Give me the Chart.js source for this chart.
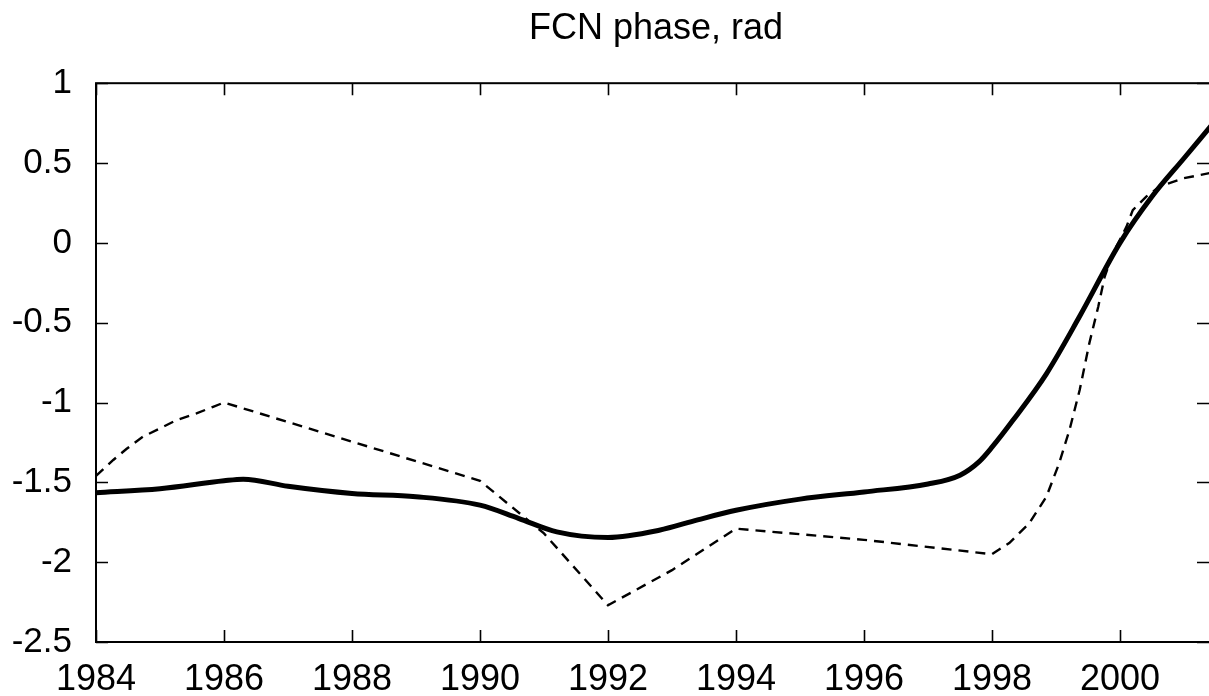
<!DOCTYPE html>
<html>
<head>
<meta charset="utf-8">
<script src="https://cdn.jsdelivr.net/npm/chart.js@4/dist/chart.umd.min.js"></script>
<style>
  html, body { margin: 0; padding: 0; background: #fff; overflow: hidden; }
  #wrap { width: 1216px; height: 696px; }
</style>
</head>
<body>
<div id="wrap"><canvas id="fcn" width="1216" height="696"></canvas></div>
<script>
// FCN phase (rad) vs year

const chartTitle = 'FCN phase, rad';

// x tick labels (years) and y tick labels
const yearTicks = [1984, 1986, 1988, 1990, 1992, 1994, 1996, 1998, 2000];
const phaseTicks = [-2.5, -2, -1.5, -1, -0.5, 0, 0.5, 1];
const phaseTickLabels = ['-2.5', '-2', '-1.5', '-1', '-0.5', '0', '0.5', '1'];

// thick solid curve
const solidYears = [1984, 1985, 1986, 1986.3, 1987, 1988, 1989, 1990, 1990.6, 1991.2, 1992, 1992.8, 1993.4, 1994,
  1995, 1996, 1997, 1997.5, 1997.8, 1998, 1998.33, 1998.85, 1999.37, 2000, 2000.5, 2001, 2001.5];
const solidPhase = [-1.565, -1.54, -1.49, -1.48, -1.525, -1.57, -1.59, -1.643, -1.725, -1.81, -1.845, -1.8, -1.735, -1.675,
  -1.605, -1.56, -1.51, -1.455, -1.37, -1.28, -1.11, -0.82, -0.46, 0.0, 0.29, 0.53, 0.77];

// thin dashed curve
const dashedYears = [1984, 1984.27, 1984.48, 1984.73, 1985, 1985.26, 1985.57, 1985.83, 1986, 1988, 1990, 1991, 1992, 1993, 1994, 1996, 1998,
  1998.27, 1998.58, 1998.85, 1999.05, 1999.21, 1999.37, 1999.52, 1999.66, 1999.76, 1999.89, 2000.1, 2000.2, 2000.41,
  2000.63, 2001, 2001.5];
const dashedPhase = [-1.46, -1.36, -1.29, -1.215, -1.162, -1.11, -1.068, -1.027, -1.0, -1.245, -1.49, -1.82, -2.27, -2.05, -1.79, -1.86, -1.95,
  -1.88, -1.757, -1.59, -1.38, -1.173, -0.922, -0.63, -0.4, -0.213, -0.066, 0.1, 0.205, 0.29,
  0.355, 0.405, 0.445];

const toPoints = (xs, ys) => xs.map((x, i) => ({ x: x, y: ys[i] }));

// box frame + inward tick marks, gnuplot style
const frameTicks = {
  id: 'frameTicks',
  afterDraw(chart) {
    const { ctx, chartArea: a, scales } = chart;
    const len = 12;
    ctx.save();
    ctx.strokeStyle = '#000';
    ctx.lineWidth = 2;
    ctx.strokeRect(a.left, a.top, a.right - a.left, a.bottom - a.top);
    ctx.beginPath();
    yearTicks.forEach(v => {
      const px = Math.round(scales.x.getPixelForValue(v)) + 0.5;
      ctx.moveTo(px, a.bottom); ctx.lineTo(px, a.bottom - len);
      ctx.moveTo(px, a.top); ctx.lineTo(px, a.top + len);
    });
    phaseTicks.forEach(v => {
      const py = Math.round(scales.y.getPixelForValue(v)) + 0.5;
      ctx.moveTo(a.left, py); ctx.lineTo(a.left + len, py);
      ctx.moveTo(1209, py); ctx.lineTo(1209 - len, py);
    });
    ctx.lineWidth = 1.6;
    ctx.stroke();
    ctx.restore();
  }
};

new Chart(document.getElementById('fcn'), {
  type: 'line',
  data: {
    datasets: [
      {
        data: toPoints(solidYears, solidPhase),
        borderColor: '#000',
        borderWidth: 5,
        pointRadius: 0,
        cubicInterpolationMode: 'monotone',
        fill: false
      },
      {
        data: toPoints(dashedYears, dashedPhase),
        borderColor: '#000',
        borderWidth: 2.4,
        borderDash: [10, 7],
        pointRadius: 0,
        tension: 0,
        fill: false
      }
    ]
  },
  options: {
    responsive: false,
    animation: false,
    devicePixelRatio: 1,
    layout: { padding: 0 },
    plugins: {
      legend: { display: false },
      tooltip: { enabled: false },
      title: {
        display: true,
        text: chartTitle,
        fullSize: false,
        color: '#000',
        font: { family: 'Liberation Sans, Arial, sans-serif', size: 36, weight: 'normal', lineHeight: 1.2 },
        padding: { top: 7, bottom: 33 }
      }
    },
    scales: {
      x: {
        type: 'linear',
        min: 1984,
        max: 2001.5,
        afterFit(scale) { scale.height = 54; },
        afterBuildTicks(scale) { scale.ticks = yearTicks.map(v => ({ value: v })); },
        grid: { display: false, drawTicks: false },
        border: { display: false },
        ticks: {
          color: '#000',
          padding: 16,
          maxRotation: 0,
          autoSkip: false,
          font: { family: 'Liberation Sans, Arial, sans-serif', size: 36 },
          callback: v => String(v)
        }
      },
      y: {
        min: -2.5,
        max: 1,
        afterFit(scale) { scale.width = 96; },
        afterBuildTicks(scale) { scale.ticks = phaseTicks.map(v => ({ value: v })); },
        grid: { display: false, drawTicks: false },
        border: { display: false },
        ticks: {
          color: '#000',
          padding: 24,
          autoSkip: false,
          font: { family: 'Liberation Sans, Arial, sans-serif', size: 35 },
          callback: v => phaseTickLabels[phaseTicks.indexOf(v)]
        }
      }
    }
  },
  plugins: [frameTicks]
});
</script>
</body>
</html>
